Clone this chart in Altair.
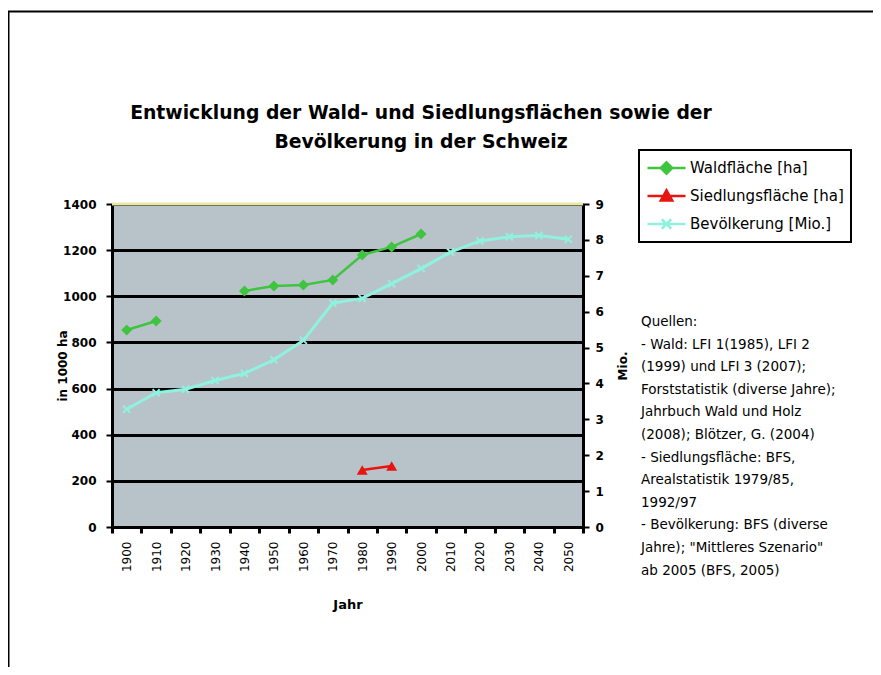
import altair as alt
import pandas as pd

years = [str(y) for y in range(1900, 2060, 10)]
wald = [854, 893, None, None, 1023, 1045, 1049, 1071, 1179, 1214, 1270,
        None, None, None, None, None]
siedlung = [None, None, None, None, None, None, None, None, 247, 264,
            None, None, None, None, None, None]
bev = [3.28, 3.74, 3.84, 4.08, 4.28, 4.66, 5.2, 6.24, 6.37, 6.78, 7.2,
       7.66, 7.97, 8.09, 8.12, 8.02]

series = ["Waldfläche [ha]", "Siedlungsfläche [ha]", "Bevölkerung [Mio.]"]
colors = ["#3fc43f", "#e8140f", "#8ff2df"]
left_ticks = [0, 200, 400, 600, 800, 1000, 1200, 1400]
left_top = [1400]
right_ticks = list(range(0, 10))

title_lines = ["Entwicklung der Wald- und Siedlungsflächen sowie der",
               "Bevölkerung in der Schweiz"]
source_lines = [
    "Quellen:",
    "- Wald:  LFI 1(1985), LFI 2",
    "(1999) und LFI 3 (2007);",
    "Forststatistik (diverse Jahre);",
    "Jahrbuch Wald und Holz",
    "(2008); Blötzer, G. (2004)",
    "- Siedlungsfläche: BFS,",
    "Arealstatistik 1979/85,",
    "1992/97",
    "- Bevölkerung: BFS (diverse",
    "Jahre); \"Mittleres Szenario\"",
    "ab 2005 (BFS, 2005)",
]


def frame(vals):
    df = pd.DataFrame({"year": years, "value": vals})
    df["seg"] = df["value"].isna().cumsum()
    return df.dropna()


df_w = frame(wald)
df_s = frame(siedlung)
df_b = frame(bev)

FONT = "DejaVu Sans"

xscale = alt.Scale(type="band", domain=years, paddingInner=0, paddingOuter=0)
xaxis = alt.Axis(title="Jahr", labelAngle=270, labelAlign="right", labelBaseline="middle",
                 ticks=True, tickSize=6, tickWidth=3, tickColor="black",
                 tickBand="extent", domainColor="black", domainWidth=3, labelFont=FONT,
                 labelFontSize=12, labelColor="black", labelPadding=8, labelOverlap=False,
                 titleFont=FONT, titleFontSize=13, titleFontWeight="bold", titleColor="black",
                 titleX=235.5, titleY=77, titleBaseline="middle", grid=False)
xenc = alt.X("year:O", sort=years, scale=xscale, axis=xaxis)

yleft_axis = alt.Axis(values=left_ticks, tickCount=20, format="d", grid=True, gridColor="black",
                      gridWidth=3, domainColor="black", domainWidth=3, tickColor="black",
                      tickWidth=2, tickSize=6, labelFont=FONT, labelFontWeight="bold",
                      labelFontSize=12, labelColor="black", labelPadding=10, labelOverlap=False,
                      title="in 1000 ha", titleFont=FONT, titleFontSize=12,
                      titleFontWeight="bold", titleColor="black", titleX=-50, titleY=161.5,
                      titleAngle=270, titleAlign="center", titleBaseline="middle")
yleft_scale = alt.Scale(domain=[0, 1400], nice=False)


def yleft():
    return alt.Y("value:Q", scale=yleft_scale, axis=yleft_axis)


legend = alt.Legend(title=None, orient="none", legendX=527, legendY=-54, direction="vertical",
                    strokeColor="black", fillColor="white", padding=7,
                    symbolSize=1444, symbolStrokeWidth=2.5, labelFont=FONT,
                    labelFontSize=15, labelColor="black", labelOffset=3, clipHeight=22,
                    rowPadding=6, symbolOpacity=1)
shapes = ["M-1,0L1,0M0,-0.3L0.3,0L0,0.3L-0.3,0Z",
          "M-1,0L1,0M-0.3,0.24L0,-0.3L0.3,0.24Z",
          "M-1,0L1,0M-0.25,-0.25L0.25,0.25M-0.25,0.25L0.25,-0.25"]

wald_line = alt.Chart(df_w).mark_line(color=colors[0], strokeWidth=2.5).encode(
    x=xenc, y=yleft(), detail="seg:N")
wald_pts = alt.Chart(df_w).mark_point(shape="diamond", filled=True, size=120, color=colors[0],
                                      opacity=1).encode(x=xenc, y=yleft())
sied_line = alt.Chart(df_s).mark_line(color=colors[1], strokeWidth=2.5).encode(
    x=xenc, y=yleft())
sied_pts = alt.Chart(df_s).mark_point(shape="triangle-up", filled=True, size=120, color=colors[1],
                                      opacity=1).encode(x=xenc, y=yleft())
top_rule = alt.Chart(pd.DataFrame({"value": left_top})).mark_rule(
    color="#ebe6a4", strokeWidth=3).encode(y=yleft())

leg_df = pd.DataFrame({"year": years[:3], "value": [0, 0, 0], "series": series})
legend_layer = alt.Chart(leg_df).transform_filter("false").mark_point(
    filled=True, strokeWidth=2.5, opacity=1).encode(
    x=xenc, y=yleft(),
    color=alt.Color("series:N", scale=alt.Scale(domain=series, range=colors), legend=legend),
    stroke=alt.Stroke("series:N", scale=alt.Scale(domain=series, range=colors), legend=legend),
    shape=alt.Shape("series:N", scale=alt.Scale(domain=series, range=shapes), legend=legend))

left = alt.layer(wald_line, top_rule, wald_pts, sied_line, sied_pts, legend_layer)

yright_scale = alt.Scale(domain=[0, 9], nice=False)
yright_axis = alt.Axis(orient="right", values=right_ticks, format="d", tickCount=20, grid=False,
                       domainColor="black", domainWidth=3, tickColor="black", tickWidth=2,
                       tickSize=6, labelFont=FONT, labelFontWeight="bold", labelFontSize=12,
                       labelColor="black", labelPadding=6, labelOverlap=False, title="Mio.",
                       titleFont=FONT, titleFontSize=12, titleFontWeight="bold",
                       titleColor="black", titleX=39, titleY=161.5, titleAngle=270,
                       titleAlign="center", titleBaseline="middle")


def yright():
    return alt.Y("value:Q", scale=yright_scale, axis=yright_axis)


bev_line = alt.Chart(df_b).mark_line(color=colors[2], strokeWidth=3).encode(x=xenc, y=yright())
bev_pts = alt.Chart(df_b).mark_point(shape="M-1,-1L1,1M-1,1L1,-1", filled=False, size=50,
                                     color=colors[2], strokeWidth=2, opacity=1).encode(
    x=xenc, y=yright())
right = alt.layer(bev_line, bev_pts)

one = pd.DataFrame({"a": [0]})
title = alt.Chart(one).mark_text(text=title_lines, align="center", baseline="top", font=FONT,
                                 fontSize=18.8, fontWeight="bold", lineHeight=29,
                                 color="black").encode(x=alt.value(309), y=alt.value(-100))
sources = alt.Chart(one).mark_text(text=source_lines, align="left", baseline="top", font=FONT,
                                   fontSize=13.5, lineHeight=22.6, color="black").encode(
    x=alt.value(529), y=alt.value(111))
border = alt.Chart(one).mark_rect(fillOpacity=0, stroke="black", strokeWidth=2).encode(
    x=alt.value(-103.5), x2=alt.value(800), y=alt.value(-192.5), y2=alt.value(520))

chart = alt.layer(left, right, title, sources, border).resolve_scale(y="independent").properties(
    width=471, height=323, autosize="none",
    padding={"left": 104, "top": 196, "right": 290, "bottom": 140},
).configure_view(fill="#b8c3c9", stroke=None).configure_legend(strokeWidth=2)

chart.save("out.html", embed_options={"renderer": "svg", "actions": False})
